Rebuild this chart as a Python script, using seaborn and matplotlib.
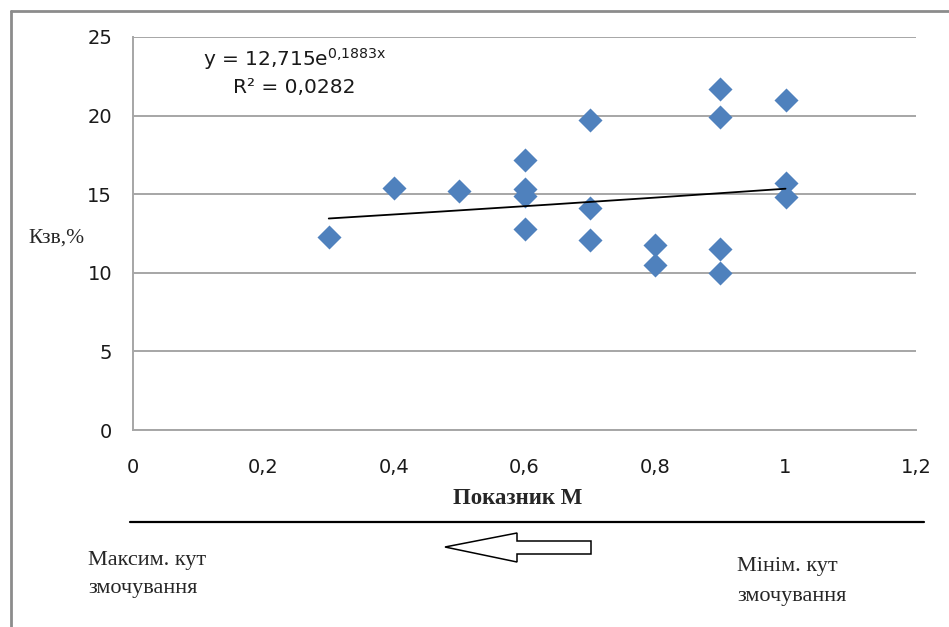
import numpy as np
import pandas as pd
import matplotlib
matplotlib.use("Agg")
import matplotlib.pyplot as plt
from matplotlib.patches import Polygon
from matplotlib.lines import Line2D
import seaborn as sns

# Index M vs. Kzv, %
m_index = [0.3, 0.4, 0.5, 0.6, 0.6, 0.6, 0.6, 0.7, 0.7, 0.7,
           0.8, 0.8, 0.9, 0.9, 0.9, 0.9, 1.0, 1.0, 1.0]
kzv = [12.3, 15.4, 15.2, 17.2, 15.3, 14.9, 12.8, 19.7, 14.1, 12.1,
       11.8, 10.5, 21.7, 19.9, 11.5, 10.0, 21.0, 15.7, 14.8]

# Exponential trend line y = a * exp(b x)
trend_a = 12.715
trend_b = 0.1883
trend_r2 = "0,0282"

x_ticks = [0, 0.2, 0.4, 0.6, 0.8, 1.0, 1.2]
x_tick_labels = ["0", "0,2", "0,4", "0,6", "0,8", "1", "1,2"]
y_ticks = [0, 5, 10, 15, 20, 25]

df = pd.DataFrame({"M": m_index, "Kzv": kzv})

sns.set_style("white")
plt.rcParams["font.family"] = ["DejaVu Sans"]

W, H = 949, 627
fig = plt.figure(figsize=(W / 100, H / 100), dpi=100)
ax = fig.add_axes([133 / W, 1 - 430 / H, (916 - 133) / W, (430 - 37) / H])

grid_col = "#a6a6a6"
ax.set_xlim(0, 1.2)
ax.set_ylim(0, 25)
ax.set_yticks(y_ticks)
ax.set_xticks(x_ticks)
ax.set_xticklabels(x_tick_labels)
ax.yaxis.grid(True, color=grid_col, linewidth=1.4)
ax.xaxis.grid(False)
ax.set_axisbelow(True)
for side in ["top", "right"]:
    ax.spines[side].set_visible(False)
for side in ["left", "bottom"]:
    ax.spines[side].set_color(grid_col)
    ax.spines[side].set_linewidth(1.4)
ax.tick_params(axis="both", which="major", direction="out", length=7,
               width=1.4, color=grid_col, labelsize=14, labelcolor="#1a1a1a")
ax.tick_params(axis="x", pad=13)
ax.tick_params(axis="y", pad=8)

sns.scatterplot(data=df, x="M", y="Kzv", ax=ax, marker="D", s=150,
                color="#4f81bd", edgecolor="#4f81bd", linewidth=0, zorder=3)
ax.set_xlabel("")
ax.set_ylabel("")

xt = np.linspace(min(m_index), max(m_index), 200)
ax.plot(xt, trend_a * np.exp(trend_b * xt), color="black", linewidth=1.3, zorder=4)

ax.text(0.107, 23.6, r"y = 12,715e$^{\mathregular{0{,}1883x}}$",
        fontsize=14.5, color="#1a1a1a", ha="left", va="center")
ax.text(0.153, 21.8, "R² = " + trend_r2,
        fontsize=14.5, color="#1a1a1a", ha="left", va="center")

serif = ["Liberation Serif", "DejaVu Serif"]
fig.text(28 / W, 1 - 238 / H, "Кзв,%", family=serif, fontsize=15.5,
         ha="left", va="center")
fig.text(518 / W, 1 - 499 / H, "Показник М", family=serif, fontsize=16.5,
         fontweight="bold", ha="center", va="center")

# Separator line under the axis title
fig.add_artist(Line2D([130 / W, 924 / W], [1 - 522 / H, 1 - 522 / H],
                      transform=fig.transFigure, color="black", linewidth=1.6))

# Outline arrow pointing left
arrow_px = [(445, 547), (517, 533), (517, 541), (591, 541),
            (591, 554), (517, 554), (517, 562)]
arrow = Polygon([(x / W, 1 - y / H) for x, y in arrow_px], closed=True,
                facecolor="white", edgecolor="black", linewidth=1.1,
                transform=fig.transFigure)
fig.add_artist(arrow)

fig.text(88 / W, 1 - 560 / H, "Максим. кут", family=serif, fontsize=16,
         ha="left", va="center")
fig.text(88 / W, 1 - 588 / H, "змочування", family=serif, fontsize=16,
         ha="left", va="center")
fig.text(737 / W, 1 - 567 / H, "Мінім. кут", family=serif, fontsize=16,
         ha="left", va="center")
fig.text(737 / W, 1 - 596 / H, "змочування", family=serif, fontsize=16,
         ha="left", va="center")

# Chart area frame (left and top edges)
frame_col = "#8c8c8c"
fig.add_artist(Line2D([11 / W, 11 / W], [0, 1 - 11 / H],
                      transform=fig.transFigure, color=frame_col, linewidth=2))
fig.add_artist(Line2D([11 / W, 1], [1 - 11 / H, 1 - 11 / H],
                      transform=fig.transFigure, color=frame_col, linewidth=2))

fig.savefig("out.png", dpi=100)
